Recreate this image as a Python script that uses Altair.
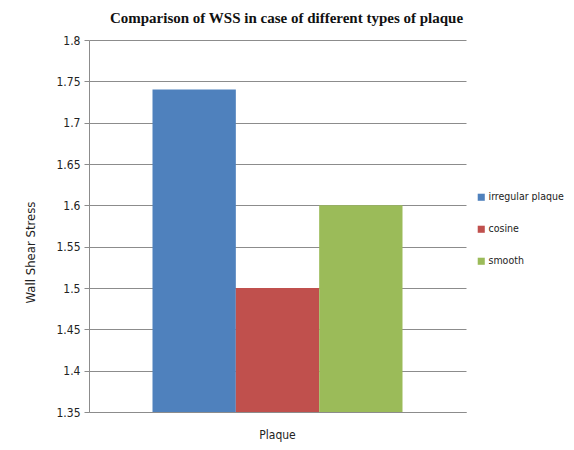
import altair as alt
import pandas as pd

categories = ["Plaque", "Plaque", "Plaque"]
series = ["irregular plaque", "cosine", "smooth"]
values = [1.74, 1.50, 1.60]
colors = ["#4F81BD", "#C0504D", "#9BBB59"]
y_ticks = [1.35, 1.4, 1.45, 1.5, 1.55, 1.6, 1.65, 1.7, 1.75, 1.8]

df = pd.DataFrame({"cat": categories, "series": series, "value": values})
df["base"] = 1.35

font = "DejaVu Sans Condensed, Liberation Sans Narrow, Liberation Sans"

chart = alt.Chart(df).mark_bar(clip=True).encode(
    x=alt.X("cat:N", title=None,
            scale=alt.Scale(paddingInner=0, paddingOuter=0.254),
            axis=alt.Axis(labelAngle=0, ticks=False, domainColor="#8C8C8C",
                          labelPadding=17, labelFontSize=12, labelFont=font,
                          labelColor="#222")),
    xOffset=alt.XOffset("series:N", sort=series, scale=alt.Scale(paddingInner=0, paddingOuter=0)),
    y=alt.Y("value:Q", title="Wall Shear Stress",
            scale=alt.Scale(domain=[1.35, 1.8], zero=False, nice=False),
            axis=alt.Axis(values=y_ticks, format="~g", tickSize=5, tickColor="#8C8C8C",
                          domainColor="#8C8C8C", gridColor="#8C8C8C", grid=True,
                          labelFontSize=12, labelFont=font, labelColor="#222", labelPadding=4,
                          titleFontSize=13, titleFont=font, titleFontWeight="normal",
                          titleColor="#222", titleX=-59, titleY=212, titleAngle=-90,
                          titleAlign="center", titleBaseline="middle")),
    y2="base:Q",
    color=alt.Color("series:N", sort=series,
                    scale=alt.Scale(domain=series, range=colors),
                    legend=alt.Legend(title=None, orient="none", legendX=387, legendY=152,
                                      symbolType="square", symbolSize=50, symbolStrokeWidth=0,
                                      labelFontSize=10.5, labelFont=font, labelColor="#222",
                                      rowPadding=21, labelOffset=2, labelLimit=200)),
).properties(
    width=377,
    height=372,
    title=alt.Title("Comparison of WSS in case of different types of plaque",
                    font="Liberation Serif", fontSize=15, fontWeight="bold",
                    color="#111", anchor="middle", dx=9, offset=8),
    autosize=alt.AutoSizeParams(type="none"),
    padding={"left": 81, "top": 32, "right": 100, "bottom": 30},
).configure_view(stroke=None)

chart.save("out.html", embed_options={"renderer": "svg", "actions": False})
